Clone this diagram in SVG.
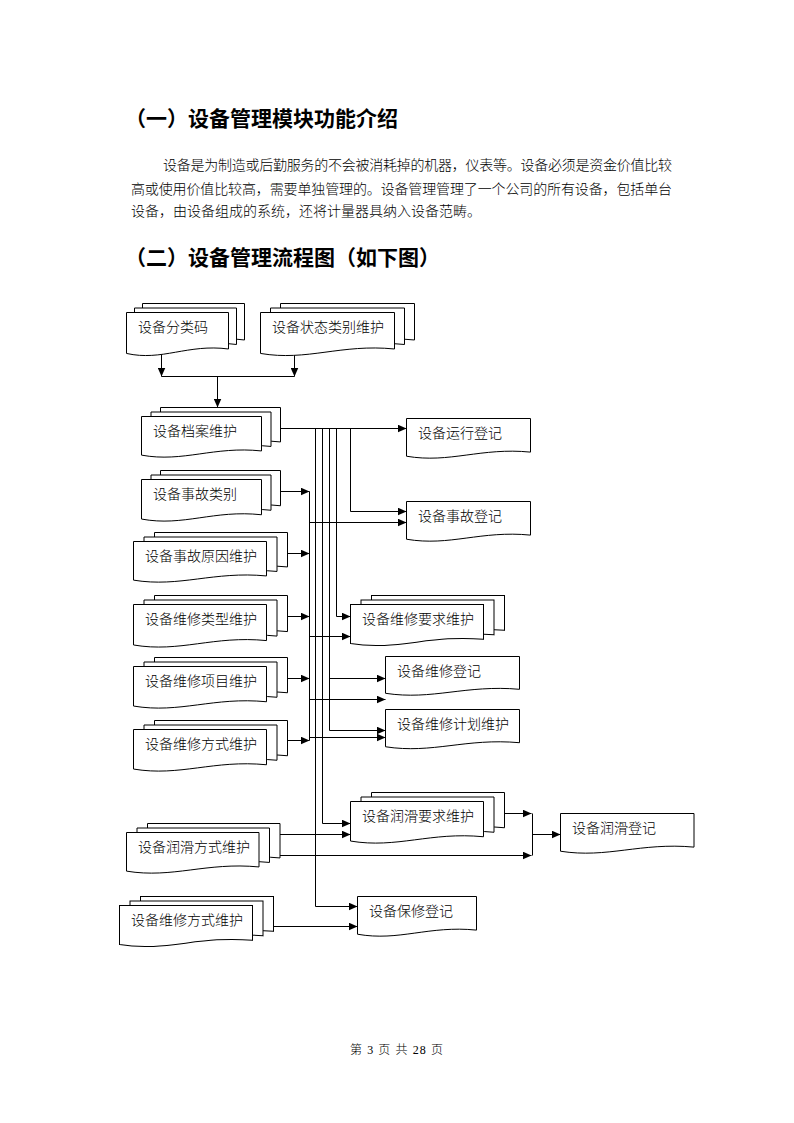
<svg xmlns="http://www.w3.org/2000/svg" xmlns:xlink="http://www.w3.org/1999/xlink" width="794" height="1123" viewBox="0 0 794 1123">
<style>
.h{font-family:"Noto Sans CJK SC",sans-serif;font-weight:700;font-size:21px;fill:#000}
.p{font-family:"Liberation Serif","Noto Sans CJK SC",serif;font-weight:300;font-size:14px;fill:#000}
.t{font-family:"Liberation Serif","Noto Sans CJK SC",serif;font-weight:300;font-size:14px;fill:#000}
.f{font-family:"Liberation Serif","Noto Sans CJK SC",serif;font-weight:300;font-size:12px;fill:#000}
.c path{fill:none;stroke:#000;stroke-width:1}
.a{marker-end:url(#ar)}
</style>
<defs>
<symbol id="doc" viewBox="0 0 100 100" preserveAspectRatio="none" overflow="visible">
<path d="M0,0 H100 V82 C60,70 35,110 0,92 Z" fill="#fff" stroke="#000" stroke-width="1" vector-effect="non-scaling-stroke"/>
</symbol>
<marker id="ar" markerUnits="userSpaceOnUse" markerWidth="9" markerHeight="8" refX="9" refY="4" orient="auto">
<path d="M0,0 L9,4 L0,8 Z" fill="#000"/>
</marker>
</defs>
<rect width="794" height="1123" fill="#fff"/>

<text class="h" x="125" y="126">（一）设备管理模块功能介绍</text>
<text class="p" x="163" y="170" textLength="509" lengthAdjust="spacing">设备是为制造或后勤服务的不会被消耗掉的机器，仪表等。设备必须是资金价值比较</text>
<text class="p" x="131" y="194" textLength="541" lengthAdjust="spacing">高或使用价值比较高，需要单独管理的。设备管理管理了一个公司的所有设备，包括单台</text>
<text class="p" x="131" y="216">设备，由设备组成的系统，还将计量器具纳入设备范畴。</text>
<text class="h" x="125" y="265">（二）设备管理流程图（如下图）</text>

<g class="c">
<path class="a" d="M161.5,354 V376.5"/>
<path class="a" d="M294.5,355 V376.5"/>
<path d="M161.5,376.5 H294.5"/>
<path class="a" d="M217.5,376.5 V407.5"/>
<path class="a" d="M280.5,428.5 H406.5"/>
<path class="a" d="M315.5,428.5 V906.5 H357.5"/>
<path class="a" d="M322.5,428.5 V823.5 H350.5"/>
<path class="a" d="M329.5,428.5 V730.5 H385.5"/>
<path class="a" d="M329.5,678.5 H385.5"/>
<path class="a" d="M336.5,428.5 V616.5 H350.5"/>
<path class="a" d="M350.5,428.5 V511.5 H406.5"/>
<path class="a" d="M280.5,491.5 H309.5"/>
<path class="a" d="M287.5,553.5 H309.5"/>
<path class="a" d="M287.5,616.5 H309.5"/>
<path class="a" d="M287.5,678.5 H309.5"/>
<path class="a" d="M287.5,740.5 H309.5"/>
<path d="M309.5,491.5 V740.5"/>
<path class="a" d="M309.5,522.5 H406.5"/>
<path class="a" d="M309.5,636.5 H350.5"/>
<path class="a" d="M309.5,699.5 H385.5"/>
<path class="a" d="M309.5,737.5 H385.5"/>
<path class="a" d="M280,834.5 H350.5"/>
<path class="a" d="M280,855.5 H531.5"/>
<path class="a" d="M504.5,813.5 H531.5"/>
<path d="M532.5,813.5 V855.5"/>
<path class="a" d="M532.5,834.5 H560.5"/>
<path class="a" d="M273.5,926.5 H357.5"/>
</g>

<g id="n1">
<use href="#doc" x="142.5" y="303.5" width="102" height="44.5"/>
<use href="#doc" x="134.5" y="308" width="102" height="44.5"/>
<use href="#doc" x="126.5" y="312.5" width="102" height="44.5"/>
<text class="t" x="138" y="331.5">设备分类码</text>
</g>
<g id="n2">
<use href="#doc" x="280.5" y="303.5" width="134" height="44.5"/>
<use href="#doc" x="270.5" y="308" width="134" height="44.5"/>
<use href="#doc" x="260.5" y="312.5" width="134" height="44.5"/>
<text class="t" x="272" y="331.5">设备状态类别维护</text>
</g>
<g id="n3">
<use href="#doc" x="160.5" y="407.5" width="120" height="42"/>
<use href="#doc" x="151" y="412" width="120" height="42"/>
<use href="#doc" x="141.5" y="416.5" width="120" height="42"/>
<text class="t" x="153" y="435.5">设备档案维护</text>
</g>
<g id="n4">
<use href="#doc" x="406.5" y="418.5" width="124" height="41"/>
<text class="t" x="418" y="437.5">设备运行登记</text>
</g>
<g id="n5">
<use href="#doc" x="160.5" y="470.5" width="120" height="43"/>
<use href="#doc" x="151" y="475" width="120" height="43"/>
<use href="#doc" x="141.5" y="479.5" width="120" height="43"/>
<text class="t" x="153" y="498.5">设备事故类别</text>
</g>
<g id="n6">
<use href="#doc" x="406.5" y="501.5" width="124" height="41"/>
<text class="t" x="418" y="520.5">设备事故登记</text>
</g>
<g id="n7">
<use href="#doc" x="154.5" y="532.5" width="133" height="42"/>
<use href="#doc" x="144" y="537" width="133" height="42"/>
<use href="#doc" x="133.5" y="541.5" width="133" height="42"/>
<text class="t" x="145" y="560.5">设备事故原因维护</text>
</g>
<g id="n8">
<use href="#doc" x="154.5" y="595.5" width="133" height="44"/>
<use href="#doc" x="144" y="600" width="133" height="44"/>
<use href="#doc" x="133.5" y="604.5" width="133" height="44"/>
<text class="t" x="145" y="623.5">设备维修类型维护</text>
</g>
<g id="n9">
<use href="#doc" x="371.5" y="595.5" width="133" height="42.5"/>
<use href="#doc" x="361" y="600" width="133" height="42.5"/>
<use href="#doc" x="350.5" y="604.5" width="133" height="42.5"/>
<text class="t" x="362" y="623.5">设备维修要求维护</text>
</g>
<g id="n10">
<use href="#doc" x="154.5" y="657.5" width="133" height="43"/>
<use href="#doc" x="144" y="662" width="133" height="43"/>
<use href="#doc" x="133.5" y="666.5" width="133" height="43"/>
<text class="t" x="145" y="685.5">设备维修项目维护</text>
</g>
<g id="n11">
<use href="#doc" x="385.5" y="656.5" width="134" height="40"/>
<text class="t" x="397" y="675.5">设备维修登记</text>
</g>
<g id="n12">
<use href="#doc" x="154.5" y="720.5" width="133" height="43"/>
<use href="#doc" x="144" y="725" width="133" height="43"/>
<use href="#doc" x="133.5" y="729.5" width="133" height="43"/>
<text class="t" x="145" y="748.5">设备维修方式维护</text>
</g>
<g id="n13">
<use href="#doc" x="385.5" y="709.5" width="134" height="40.5"/>
<text class="t" x="397" y="728.5">设备维修计划维护</text>
</g>
<g id="n14">
<use href="#doc" x="371.5" y="792.5" width="133" height="43"/>
<use href="#doc" x="361" y="797" width="133" height="43"/>
<use href="#doc" x="350.5" y="801.5" width="133" height="43"/>
<text class="t" x="362" y="820.5">设备润滑要求维护</text>
</g>
<g id="n15">
<use href="#doc" x="147.5" y="823.5" width="132.5" height="42"/>
<use href="#doc" x="137" y="828" width="132.5" height="42"/>
<use href="#doc" x="126.5" y="832.5" width="132.5" height="42"/>
<text class="t" x="138" y="851.5">设备润滑方式维护</text>
</g>
<g id="n16">
<use href="#doc" x="560.5" y="813.5" width="133.5" height="41"/>
<text class="t" x="572" y="832.5">设备润滑登记</text>
</g>
<g id="n17">
<use href="#doc" x="140.5" y="896.5" width="133" height="42.5"/>
<use href="#doc" x="130" y="901" width="133" height="42.5"/>
<use href="#doc" x="119.5" y="905.5" width="133" height="42.5"/>
<text class="t" x="131" y="924.5">设备维修方式维护</text>
</g>
<g id="n18">
<use href="#doc" x="357.5" y="896.5" width="119" height="41"/>
<text class="t" x="369" y="915.5">设备保修登记</text>
</g>

<text class="f" x="350" y="1054" textLength="93" lengthAdjust="spacing">第 3 页 共 28 页</text>
</svg>
